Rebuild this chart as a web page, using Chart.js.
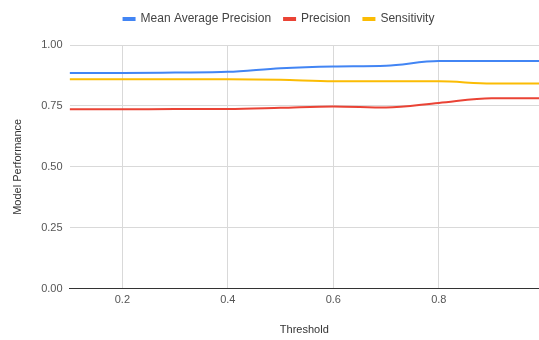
<!DOCTYPE html>
<html>
<head>
<meta charset="utf-8">
<script src="https://cdn.jsdelivr.net/npm/chart.js@4"></script>
<style>
  html, body { margin: 0; padding: 0; background: #fff; overflow: hidden; }
  #wrap { width: 539px; height: 340px; }
</style>
</head>
<body>
<div id="wrap"><canvas id="myChart"></canvas></div>
<script>
// data
const thresholds = [0.1, 0.2, 0.3, 0.4, 0.5, 0.6, 0.7, 0.8, 0.9, 1.0];
const mean_avg_precision = [0.885, 0.885, 0.887, 0.890, 0.905, 0.912, 0.915, 0.934, 0.934, 0.934];
const precision = [0.736, 0.736, 0.737, 0.737, 0.742, 0.748, 0.743, 0.762, 0.781, 0.781];
const sensitivity = [0.859, 0.859, 0.859, 0.859, 0.857, 0.851, 0.851, 0.851, 0.842, 0.842];
const xTicks = [0.2, 0.4, 0.6, 0.8];
const yTicks = [0, 0.25, 0.5, 0.75, 1];

const FONT = "'Liberation Sans', Arial, sans-serif";

function toPoints(values) {
    return thresholds.map((t, i) => ({ x: t, y: values[i] }));
}

function makeSet(label, color, values) {
    return {
        label: label,
        data: toPoints(values),
        borderColor: color,
        backgroundColor: color,
        borderWidth: 2,
        pointRadius: 0,
        cubicInterpolationMode: 'monotone',
        fill: false
    };
}

// extra room under the legend, and nudge it a bit to the right
const legendGap = {
    id: 'legendGap',
    beforeInit(chart) {
        const fit = chart.legend.fit;
        chart.legend.fit = function () {
            fit.bind(chart.legend)();
            this.height += 10;
        };
    },
    afterLayout(chart) {
        chart.legend.left += 6;
        chart.legend.right += 6;
    }
};

const ctx = document.getElementById('myChart');

const myChart = new Chart(ctx, {
    type: 'line',
    data: {
        datasets: [
            makeSet('Mean Average Precision', '#4285F4', mean_avg_precision),
            makeSet('Precision', '#EA4335', precision),
            makeSet('Sensitivity', '#FBBC04', sensitivity)
        ]
    },
    plugins: [legendGap],
    options: {
        responsive: true,
        maintainAspectRatio: false,
        animation: false,
        layout: { padding: { left: 7, right: 0, top: 0, bottom: 3 } },
        plugins: {
            tooltip: { enabled: false },
            legend: {
                position: 'top',
                labels: {
                    font: { family: FONT, size: 12 },
                    color: '#444',
                    boxWidth: 11,
                    boxHeight: 2,
                    padding: 13
                }
            }
        },
        scales: {
            x: {
                type: 'linear',
                min: 0.1,
                max: 0.99,
                afterBuildTicks: (scale) => {
                    scale.ticks = xTicks.map(v => ({ value: v }));
                },
                ticks: {
                    font: { family: FONT, size: 11 },
                    color: '#555',
                    padding: 5,
                    callback: (v) => v.toString()
                },
                grid: { color: '#d9d9d9', drawTicks: false },
                border: { display: true, color: '#333', width: 1 },
                title: {
                    display: true,
                    text: 'Threshold',
                    font: { family: FONT, size: 11 },
                    color: '#333',
                    padding: { top: 12, bottom: 0 }
                }
            },
            y: {
                min: 0,
                max: 1,
                afterBuildTicks: (scale) => {
                    scale.ticks = yTicks.map(v => ({ value: v }));
                },
                ticks: {
                    font: { family: FONT, size: 11 },
                    color: '#555',
                    padding: 7,
                    callback: (v) => v.toFixed(2)
                },
                grid: { color: '#d9d9d9', drawTicks: false },
                border: { display: false },
                title: {
                    display: true,
                    text: 'Model Performance',
                    font: { family: FONT, size: 11 },
                    color: '#333',
                    padding: { top: 4, bottom: 10 }
                }
            }
        }
    }
});
</script>
</body>
</html>
